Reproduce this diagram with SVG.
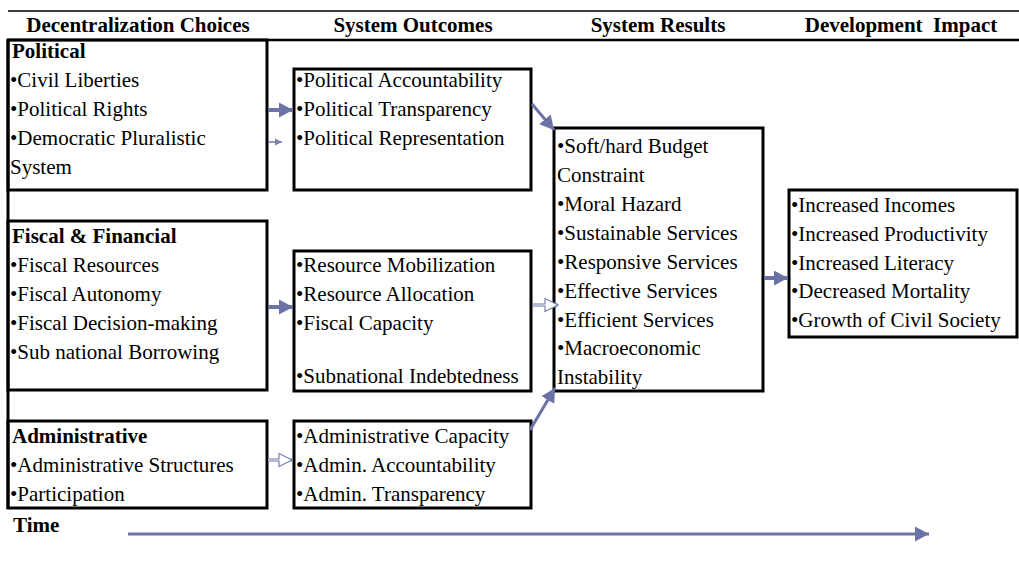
<svg xmlns="http://www.w3.org/2000/svg" width="1019" height="567" viewBox="0 0 1019 567">
<defs>
<style>
text{font-family:"Liberation Serif","Times New Roman",serif;font-size:21px;fill:#000}
.h{font-weight:bold;text-anchor:middle;white-space:pre}
.b{font-weight:bold}
.box{fill:none;stroke:#000;stroke-width:3}
.rule{stroke:#000;fill:none}
.arr{stroke:#6b73a6;fill:none}
</style>
<marker id="head" markerUnits="userSpaceOnUse" markerWidth="16" markerHeight="16" refX="14" refY="8" orient="auto" viewBox="0 0 16 16">
<path d="M0,0.5 L14,8 L0,15.5 z" fill="#6b73a6"/>
</marker>
<marker id="small" markerUnits="userSpaceOnUse" markerWidth="8" markerHeight="8" refX="7" refY="4" orient="auto" viewBox="0 0 8 8">
<path d="M0,0.5 L7,4 L0,7.5 z" fill="#7a82b0"/>
</marker>
<marker id="hollow" markerUnits="userSpaceOnUse" markerWidth="16" markerHeight="16" refX="14" refY="8" orient="auto" viewBox="0 0 16 16">
<path d="M1,1.5 L14,8 L1,14.5 z" fill="#fff" stroke="#7a82b0" stroke-width="1.2"/>
</marker>
</defs>
<rect width="1019" height="567" fill="#fff"/>

<g id="headers">
<line class="rule" x1="8" y1="11" x2="1019" y2="11" stroke-width="1.5"/>
<line class="rule" x1="8" y1="40" x2="1019" y2="40" stroke-width="2.5"/>
<text class="h" x="138" y="32">Decentralization Choices</text>
<text class="h" x="413" y="32">System Outcomes</text>
<text class="h" x="658" y="32">System Results</text>
<text class="h" x="901" y="32">Development  Impact</text>
</g>

<g id="left-spine">
<line class="rule" x1="8" y1="40" x2="8" y2="509" stroke-width="3"/>
</g>

<g id="political">
<rect class="box" x="8" y="40" width="259" height="150"/>
<text class="b" x="12" y="58">Political</text>
<text x="10" y="87">•Civil Liberties</text>
<text x="10" y="116">•Political Rights</text>
<text x="10" y="145">•Democratic Pluralistic</text>
<text x="10" y="174">System</text>
</g>

<g id="fiscal">
<rect class="box" x="8" y="221" width="259" height="169"/>
<text class="b" x="12" y="243">Fiscal &amp; Financial</text>
<text x="10" y="272">•Fiscal Resources</text>
<text x="10" y="301">•Fiscal Autonomy</text>
<text x="10" y="330">•Fiscal Decision-making</text>
<text x="10" y="359">•Sub national Borrowing</text>
</g>

<g id="administrative">
<rect class="box" x="8" y="421" width="259" height="87"/>
<text class="b" x="12" y="443">Administrative</text>
<text x="10" y="472">•Administrative Structures</text>
<text x="10" y="501">•Participation</text>
</g>

<g id="pol-outcomes">
<rect class="box" x="294" y="69" width="237" height="121"/>
<text x="296" y="87">•Political Accountability</text>
<text x="296" y="116">•Political Transparency</text>
<text x="296" y="145">•Political Representation</text>
</g>

<g id="fiscal-outcomes">
<rect class="box" x="294" y="251" width="237" height="140"/>
<text x="296" y="272">•Resource Mobilization</text>
<text x="296" y="301">•Resource Allocation</text>
<text x="296" y="330">•Fiscal Capacity</text>
<text x="296" y="383">•Subnational Indebtedness</text>
</g>

<g id="admin-outcomes">
<rect class="box" x="294" y="421" width="237" height="87"/>
<text x="296" y="443">•Administrative Capacity</text>
<text x="296" y="472">•Admin. Accountability</text>
<text x="296" y="501">•Admin. Transparency</text>
</g>

<g id="results">
<rect class="box" x="554" y="128" width="209" height="263"/>
<text x="557" y="153">•Soft/hard Budget</text>
<text x="557" y="182">Constraint</text>
<text x="557" y="211">•Moral Hazard</text>
<text x="557" y="240">•Sustainable Services</text>
<text x="557" y="269">•Responsive Services</text>
<text x="557" y="298">•Effective Services</text>
<text x="557" y="327">•Efficient Services</text>
<text x="557" y="355">•Macroeconomic</text>
<text x="557" y="384">Instability</text>
</g>

<g id="impact">
<rect class="box" x="789" y="190" width="228" height="147"/>
<text x="791" y="212">•Increased Incomes</text>
<text x="791" y="241">•Increased Productivity</text>
<text x="791" y="270">•Increased Literacy</text>
<text x="791" y="298">•Decreased Mortality</text>
<text x="791" y="327">•Growth of Civil Society</text>
</g>

<g id="time">
<text class="b" x="13" y="532">Time</text>
</g>

<g id="connectors">
<line class="arr" x1="268" y1="110" x2="293" y2="110" stroke-width="4" marker-end="url(#head)"/>
<line class="arr" x1="268" y1="142" x2="282" y2="142" stroke-width="1.5" stroke="#8a91bb" marker-end="url(#small)"/>
<line class="arr" x1="268" y1="307" x2="293" y2="307" stroke-width="4" marker-end="url(#head)"/>
<line class="arr" x1="268" y1="460" x2="292" y2="460" stroke-width="3" stroke="#8a91bb" marker-end="url(#hollow)"/>
<line x1="268" y1="460" x2="282" y2="460" stroke="#fff" stroke-width="1"/>
<line class="arr" x1="532" y1="104" x2="554" y2="130" stroke-width="3" marker-end="url(#head)"/>
<line class="arr" x1="533" y1="305" x2="558" y2="305" stroke-width="3" stroke="#8a91bb" marker-end="url(#hollow)"/>
<line x1="533" y1="305" x2="546" y2="305" stroke="#fff" stroke-width="1"/>
<line class="arr" x1="530" y1="430" x2="555" y2="388" stroke-width="3" marker-end="url(#head)"/>
<line class="arr" x1="764" y1="278" x2="788" y2="278" stroke-width="4" marker-end="url(#head)"/>
<line class="arr" x1="128" y1="534" x2="929" y2="534" stroke-width="3" marker-end="url(#head)"/>
</g>
</svg>
